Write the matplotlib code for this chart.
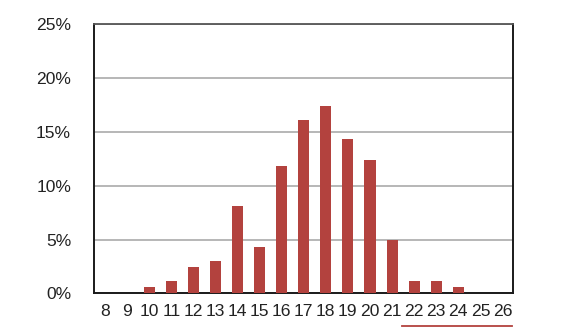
import matplotlib
matplotlib.use("Agg")
import matplotlib.pyplot as plt
from matplotlib.lines import Line2D

categories = [str(v) for v in range(8, 27)]
values = [0, 0, 0.6, 1.2, 2.5, 3.0, 8.1, 4.3, 11.8, 16.1, 17.4, 14.3, 12.4, 5.0, 1.2, 1.2, 0.6, 0, 0]
yticks = [0, 5, 10, 15, 20, 25]
ytick_labels = ["0%", "5%", "10%", "15%", "20%", "25%"]

bar_color = "#b3423e"

plt.rcParams['font.family'] = ['Liberation Sans', 'DejaVu Sans']

fig = plt.figure(figsize=(5.62, 3.35), dpi=100)
ax = fig.add_axes([0.1673, 0.1239, 0.9137 - 0.1673, 0.9284 - 0.1239])

x = list(range(len(categories)))
ax.bar(x, values, width=0.5, color=bar_color, zorder=3)
ax.set_xlim(-0.5, len(categories) - 0.5)
ax.set_ylim(0, 25)
ax.set_xticks(x)
ax.set_xticklabels(categories, fontsize=12.6)
ax.set_yticks(yticks)
ax.set_yticklabels(ytick_labels, fontsize=12.6)
ax.tick_params(axis='both', length=0, colors='#222222')
ax.tick_params(axis='y', pad=16.5)
ax.tick_params(axis='x', pad=7.5)
ax.yaxis.grid(True, color='#aaaaaa', linewidth=1.2, zorder=0)
ax.xaxis.grid(False)
for side in ['left', 'bottom', 'right']:
    ax.spines[side].set_color('#1a1a1a')
    ax.spines[side].set_linewidth(1.4)
ax.spines['top'].set_color('#555555')
ax.spines['top'].set_linewidth(1.3)

# red underline beneath labels 22-26
fig.add_artist(Line2D([402 / 562, 512 / 562], [0.027, 0.027],
                      transform=fig.transFigure, color=bar_color, linewidth=1.3))

fig.savefig("out.png", dpi=100)
